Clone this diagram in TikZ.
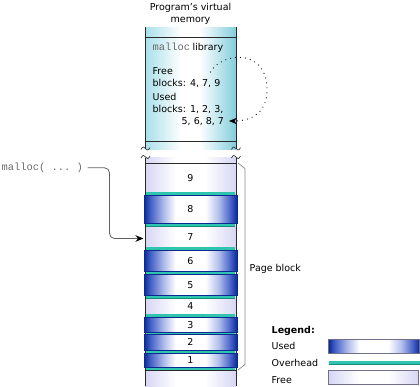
\documentclass[tikz,border=0pt]{standalone}
\usepackage{fontspec}
\setmainfont{DejaVu Sans}
\setmonofont{Liberation Mono}
\usetikzlibrary{arrows.meta}
\definecolor{usednavy}{HTML}{0B2A8F}
\definecolor{usedmid}{HTML}{3C5AC4}
\definecolor{usedlight}{HTML}{B4C0EC}
\definecolor{freeedge}{HTML}{D6D6F4}
\definecolor{cyanL}{HTML}{A8E0EA}
\definecolor{cyanR}{HTML}{82CEDC}
\definecolor{ovteal}{HTML}{2EC4AE}
\definecolor{ovdark}{HTML}{1A8C7C}
\definecolor{linedark}{HTML}{2A2A2A}
\definecolor{conngrey}{HTML}{606060}
\definecolor{brgrey}{HTML}{8A8A8A}
\definecolor{monogrey}{HTML}{6A6A6A}
\definecolor{boxgrey}{HTML}{70708A}
\pgfdeclarehorizontalshading{usedshade}{100bp}{color(0bp)=(usednavy); color(25bp)=(usednavy); color(28bp)=(usedmid); color(36bp)=(usedlight); color(42bp)=(white); color(58bp)=(white); color(65bp)=(usedlight); color(72bp)=(usedmid); color(75bp)=(usednavy); color(100bp)=(usednavy)}
\pgfdeclarehorizontalshading{freeshade}{100bp}{color(0bp)=(freeedge); color(25bp)=(freeedge); color(42bp)=(white); color(58bp)=(white); color(75bp)=(freeedge); color(100bp)=(freeedge)}
\pgfdeclarehorizontalshading{cyanshade}{100bp}{color(0bp)=(cyanL); color(25bp)=(cyanL); color(45bp)=(white); color(55bp)=(white); color(75bp)=(cyanR); color(100bp)=(cyanR)}
\newcommand{\mytxtfont}{\fontsize{9.5}{11}\selectfont}
\newcommand{\mymono}{\fontsize{10.4}{12}\selectfont\ttfamily\color{monogrey}}
\begin{document}
\begin{tikzpicture}[x=1pt,y=-1pt,
  txt/.style={inner sep=0pt, font=\mytxtfont, text=black},
  lbl/.style={txt, anchor=base west},
  colline/.style={draw=linedark, line width=0.8pt},
  tilde/.style={draw=linedark, line width=0.6pt},
  conn/.style={draw=conngrey, line width=0.8pt, rounded corners=5pt, -{Stealth[length=8pt,width=6.5pt,color=black]}},
  dotsarrow/.style={draw=black, line width=1.2pt, line cap=round, dash pattern=on 0pt off 5pt, -{Stealth[length=8pt,width=6.5pt,color=black]}},
  ovbar/.style={fill=ovteal},
  usedblk/.style={shading=usedshade, draw=usednavy, line width=0.6pt},
]
\useasboundingbox (0,0) rectangle (420,386);

% title
\node[txt, anchor=base] (title1) at (190.5,10) {Program's virtual};
\node[txt, anchor=base] (title2) at (190.5,22) {memory};

% upper column
\shade[shading=cyanshade] (145,27) rectangle (236,149);
\draw[colline] (145,27) -- (145,149);
\draw[colline] (236,27) -- (236,149);
\draw[colline] (145,37) -- (236,37);
\draw[colline] (145,141) -- (236,141);

\node[lbl] (mlib) at (152.5,50) {{\mymono malloc}\hspace{2.5pt}library};
\node[lbl] (free1) at (152.5,74) {Free};
\node[lbl] (free2) at (152.5,86) {blocks: 4, 7, 9};
\node[lbl] (used1) at (152.5,100.5) {Used};
\node[lbl] (used2) at (152.5,112.5) {blocks: 1, 2, 3,};
\node[lbl] (used3) at (181.5,124.3) {5, 6, 8, 7};

\coordinate (dstart) at (210.5,72);
\coordinate (dend) at (229,121);
\draw[dotsarrow] (dstart) .. controls (222,52) and (266,48) .. (267,88) .. controls (268,112) and (252,121) .. (dend);

% lower column
\shade[shading=freeshade] (145,157.5) rectangle (236,386);
\draw[colline] (145,157.5) -- (145,386);
\draw[colline] (236,157.5) -- (236,386);

% tilde break marks
\foreach \x/\y in {145.5/148.5, 236/148.5, 145.5/157, 236/157}
  \draw[tilde] (\x-4.5,\y+1) .. controls (\x-3,\y-2.5) and (\x-1,\y-2) .. (\x,\y) .. controls (\x+1,\y+2) and (\x+3,\y+2.5) .. (\x+4.5,\y-1);

% overhead bars
\foreach \a/\b in {192/195, 223/226, 247/250, 271/274, 295/298, 314/317, 332/334.5, 350/353, 367/370} {
  \fill[ovbar] (146,\a) rectangle (235,\b);
  \draw[ovdark, line width=0.4pt] (146,\b-0.2) -- (235,\b-0.2);
}
% used blocks
\foreach \t/\a in {195/223, 250/271, 274/295, 317/332, 334.5/350, 353/367}
  \shade[usedblk] (144,\t) rectangle (237,\a);

\draw[colline] (145,163) -- (236,163);
\draw[colline] (145,370) -- (236,370);

% block labels
\foreach \t/\a/\l in {163/192/9, 195/223/8, 226/247/7, 250/271/6, 274/295/5, 298/314/4, 317/332/3, 334.5/350/2, 353/367/1}
  \node[txt, anchor=base] (blk\l) at (190.5,{(\t+\a)/2+3.5}) {\l};

% page block bracket
\draw[brgrey, line width=0.7pt] (238,163) -- (245,168.5) -- (245,364.5) -- (238,370);
\node[lbl] (pageblock) at (249.5,271) {Page block};

% malloc call
\node[inner sep=0pt, anchor=base west, font=\mymono] (mc) at (1.5,170.5) {malloc( ... )};
\coordinate (bend) at (109.5,238.5);
\coordinate (arrowtip) at (143.5,238.5);
\draw[conn] ([xshift=4.5pt]mc.east) -| (bend) -- (arrowtip);

% legend
\node[lbl, font=\mytxtfont\bfseries] (legend) at (271.5,333) {Legend:};
\node[lbl] (lgused) at (271.5,349.5) {Used};
\node[lbl] (lgover) at (271.5,366) {Overhead};
\node[lbl] (lgfree) at (271.5,383) {Free};
\shade[shading=usedshade, draw=boxgrey, line width=0.7pt] (328.5,339.5) rectangle (419.3,353.5);
\fill[ovteal] (328.5,361) rectangle (419.5,364.5);
\draw[ovdark, line width=0.5pt] (328.5,364.3) -- (419.5,364.3);
\shade[shading=freeshade, draw=boxgrey, line width=0.7pt] (328.5,370.5) rectangle (418.5,384);
\end{tikzpicture}
\end{document}
